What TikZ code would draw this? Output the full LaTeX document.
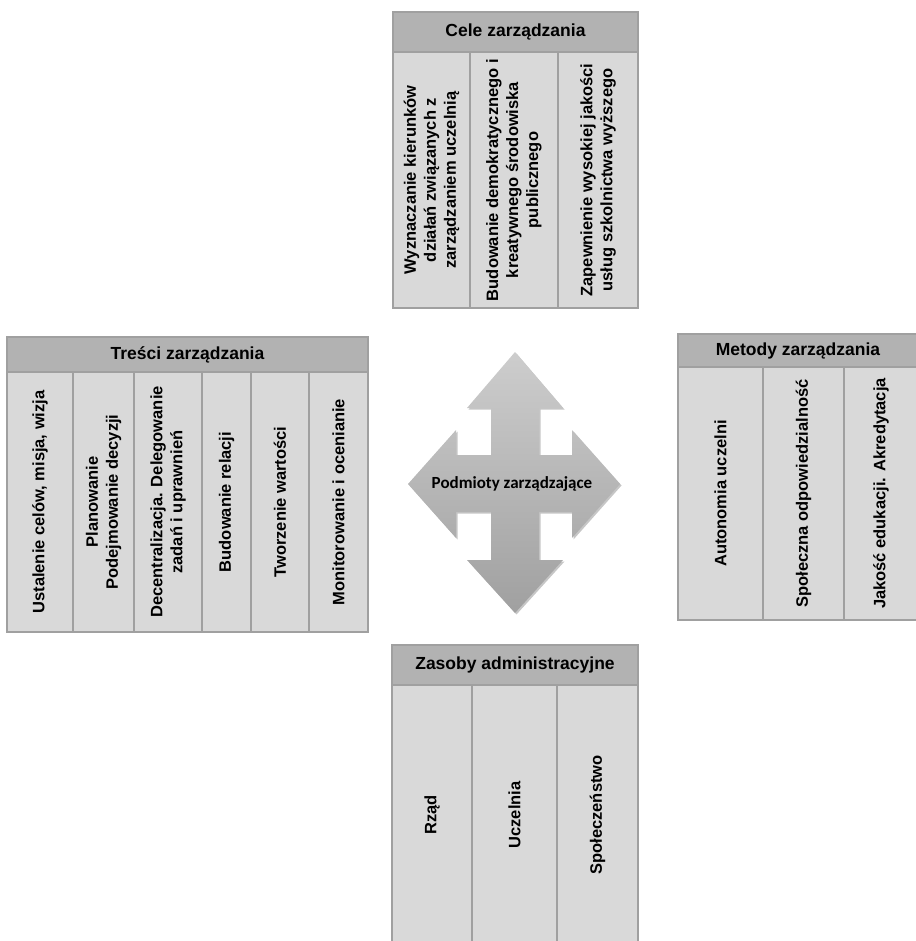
\documentclass[tikz,border=0pt]{standalone}
\usepackage{fontspec}
\setmainfont{Liberation Sans}
\newfontfamily\calibrifont{Carlito}
\usetikzlibrary{shadows}
\definecolor{headgray}{RGB}{178,178,178}
\definecolor{cellgray}{RGB}{217,217,217}
\definecolor{rulegray}{RGB}{160,160,160}
\definecolor{arrowtop}{RGB}{205,205,205}
\definecolor{arrowbot}{RGB}{160,160,160}

\begin{document}
\begin{tikzpicture}[x=1pt, y=-1pt,
    head/.style={draw=rulegray, fill=headgray, line width=1.5pt, inner sep=0pt,
      font=\fontsize{17.5}{20}\selectfont\bfseries},
    cell/.style={draw=rulegray, fill=cellgray, line width=1.5pt, inner sep=0pt,
      rotate=90, align=center, font=\fontsize{16.5}{20}\selectfont\bfseries}]
        \useasboundingbox (0,0) rectangle (915,941);

        % Cele zarzadzania (top)
        \node[cell, minimum width=256pt, minimum height=77pt] (cele1) at (431.5,180) {Wyznaczanie kierunków\\działań związanych z\\zarządzaniem uczelnią};
        \node[cell, minimum width=256pt, minimum height=88pt] (cele2) at (514,180) {Budowanie demokratycznego i\\kreatywnego środowiska\\publicznego};
        \node[cell, minimum width=256pt, minimum height=80pt] (cele3) at (598,180) {Zapewnienie wysokiej jakości\\usług szkolnictwa wyższego};
        \node[head, minimum width=245pt, minimum height=40pt] (celeHead) at (515.5,32) {Cele zarządzania};

        % Tresci zarzadzania (left)
        \node[cell, minimum width=260pt, minimum height=66pt] (tresci1) at (40,502) {Ustalenie celów, misja, wizja};
        \node[cell, minimum width=260pt, minimum height=61pt] (tresci2) at (103.5,502) {Planowanie\\Podejmowanie decyzji};
        \node[cell, minimum width=260pt, minimum height=68pt] (tresci3) at (168,502) {Decentralizacja. Delegowanie\\zadań i uprawnień};
        \node[cell, minimum width=260pt, minimum height=49pt] (tresci4) at (226.5,502) {Budowanie relacji};
        \node[cell, minimum width=260pt, minimum height=58pt] (tresci5) at (280,502) {Tworzenie wartości};
        \node[cell, minimum width=260pt, minimum height=59pt] (tresci6) at (338.5,502) {Monitorowanie i ocenianie};
        \node[head, minimum width=361pt, minimum height=35pt] (tresciHead) at (187.5,354.5) {Treści zarządzania};

        % Metody zarzadzania (right)
        \node[cell, minimum width=253pt, minimum height=85pt] (metody1) at (720.5,493.5) {Autonomia uczelni};
        \node[cell, minimum width=253pt, minimum height=81pt] (metody2) at (803.5,493.5) {Społeczna odpowiedzialność};
        \node[cell, minimum width=253pt, minimum height=74pt] (metody3) at (881,493.5) {Jakość edukacji. Akredytacja};
        \node[head, minimum width=240pt, minimum height=33pt] (metodyHead) at (798,350.5) {Metody zarządzania};

        % Zasoby administracyjne (bottom)
        \node[cell, minimum width=260pt, minimum height=80pt] (zasoby1) at (432,815) {Rząd};
        \node[cell, minimum width=260pt, minimum height=85pt] (zasoby2) at (514.5,815) {Uczelnia};
        \node[cell, minimum width=260pt, minimum height=81pt] (zasoby3) at (597.5,815) {Społeczeństwo};
        \node[head, minimum width=246pt, minimum height=40pt] (zasobyHead) at (515,665) {Zasoby administracyjne};

        % Podmioty zarzadzajace (centre arrow)
        \path[top color=arrowtop, bottom color=arrowbot,
          drop shadow={shadow xshift=1.5pt, shadow yshift=-1.5pt, opacity=0.45}]
          (515,352) -- (563,408) -- (539,408) -- (539,455) -- (572,455) -- (572,430)
          -- (620,484) -- (572,538) -- (572,512) -- (539,512) -- (539,560) -- (563,560)
          -- (515,613) -- (467,560) -- (491,560) -- (491,512) -- (456,512) -- (456,538)
          -- (408,484) -- (456,430) -- (456,455) -- (491,455) -- (491,408) -- (467,408) -- cycle;
        \node[font=\calibrifont\bfseries\fontsize{17}{20}\selectfont] (podmioty) at (512,484) {Podmioty zarządzające};
    \end{tikzpicture}
\end{document}
